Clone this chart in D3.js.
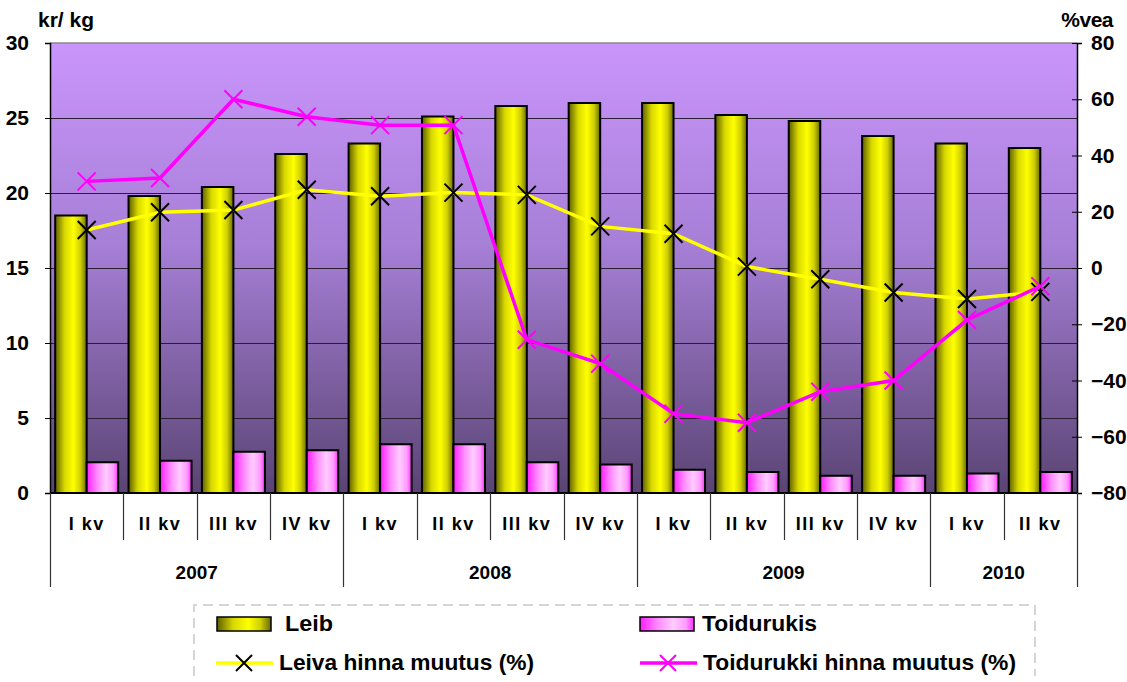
<!DOCTYPE html>
<html>
<head>
<meta charset="utf-8">
<script src="https://cdn.jsdelivr.net/npm/d3@7"></script>
<style>
  body { margin: 0; background: #fff; }
  svg text { font-family: "Liberation Sans", Arial, sans-serif; font-weight: bold; fill: #000; }
</style>
</head>
<body>
<svg id="chart" width="1127" height="682"></svg>
<script>
const quarters = ["I kv","II kv","III kv","IV kv","I kv","II kv","III kv","IV kv","I kv","II kv","III kv","IV kv","I kv","II kv"];
const years = ["2007","2008","2009","2010"];
const yearSpans = [4, 4, 4, 2];
const leib = [18.5, 19.8, 20.4, 22.6, 23.3, 25.1, 25.8, 26.0, 26.0, 25.2, 24.8, 23.8, 23.3, 23.0];
const toidurukis = [2.05, 2.15, 2.75, 2.85, 3.25, 3.25, 2.05, 1.9, 1.55, 1.4, 1.15, 1.15, 1.3, 1.4];
const leivaMuutus = [13.5, 19.8, 20.6, 27.8, 25.5, 26.8, 26.0, 14.8, 12.2, 0.5, -4.0, -8.7, -11.0, -8.5];
const toidMuutus = [30.8, 32.0, 60.0, 53.8, 50.8, 50.8, -25.5, -34.0, -51.8, -55.0, -44.0, -40.0, -18.5, -6.5];
const leftTicks = [0, 5, 10, 15, 20, 25, 30];
const rightTicks = [-80, -60, -40, -20, 0, 20, 40, 60, 80];
const seriesNames = ["Leib", "Toidurukis", "Leiva hinna muutus (%)", "Toidurukki hinna muutus (%)"];

const svg = d3.select("#chart");
const L = 50, R = 1077, T = 43, B = 493;

const x = d3.scaleBand().domain(d3.range(quarters.length)).range([L, R]).paddingInner(0).paddingOuter(0);
const xi = d3.scaleBand().domain([0, 1]).range([0, x.bandwidth()]).paddingInner(0).paddingOuter(0.164);
const yL = d3.scaleLinear().domain([0, 30]).range([B, T]);
const yR = d3.scaleLinear().domain([-80, 80]).range([B, T]);

const defs = svg.append("defs");
const bg = defs.append("linearGradient").attr("id", "bg").attr("x1", 0).attr("y1", 0).attr("x2", 0).attr("y2", 1);
bg.append("stop").attr("offset", "0%").attr("stop-color", "#ca95fc");
bg.append("stop").attr("offset", "45%").attr("stop-color", "#a67fd6");
bg.append("stop").attr("offset", "100%").attr("stop-color", "#5a4473");

const gy = defs.append("linearGradient").attr("id", "gy").attr("x1", 0).attr("y1", 0).attr("x2", 1).attr("y2", 0);
gy.append("stop").attr("offset", "0%").attr("stop-color", "#5e5e00");
gy.append("stop").attr("offset", "30%").attr("stop-color", "#d8d800");
gy.append("stop").attr("offset", "58%").attr("stop-color", "#ffff00");
gy.append("stop").attr("offset", "80%").attr("stop-color", "#d0d000");
gy.append("stop").attr("offset", "100%").attr("stop-color", "#6a6a00");

const gp = defs.append("linearGradient").attr("id", "gp").attr("x1", 0).attr("y1", 0).attr("x2", 1).attr("y2", 0);
gp.append("stop").attr("offset", "0%").attr("stop-color", "#ff1cff");
gp.append("stop").attr("offset", "35%").attr("stop-color", "#ff90ff");
gp.append("stop").attr("offset", "62%").attr("stop-color", "#ffccff");
gp.append("stop").attr("offset", "85%").attr("stop-color", "#ff9cff");
gp.append("stop").attr("offset", "100%").attr("stop-color", "#ff30ff");

// plot background
svg.append("rect").attr("x", L).attr("y", T).attr("width", R - L).attr("height", B - T).attr("fill", "url(#bg)");
svg.append("line").attr("x1", L).attr("x2", R).attr("y1", T).attr("y2", T).attr("stroke", "#8a8a8a").attr("stroke-width", 1.5);

// gridlines
svg.append("g").selectAll("line").data(leftTicks.slice(1, -1)).join("line")
  .attr("x1", L).attr("x2", R).attr("y1", d => Math.round(yL(d)) + 0.5).attr("y2", d => Math.round(yL(d)) + 0.5)
  .attr("stroke", "#2a1f33").attr("stroke-width", 1);

// left axis
const axL = svg.append("g").attr("transform", `translate(${L},0)`)
  .call(d3.axisLeft(yL).tickValues(leftTicks).tickSize(5).tickPadding(16));
axL.select(".domain").attr("stroke", "#000").attr("stroke-width", 1.5);
axL.selectAll(".tick line").attr("stroke", "#000");
axL.selectAll("text").style("font-size", "21px").style("font-family", "Liberation Sans, Arial").style("font-weight", "bold").attr("fill", "#000");

// right axis
const axR = svg.append("g").attr("transform", `translate(${R},0)`)
  .call(d3.axisRight(yR).tickValues(rightTicks).tickSize(5).tickPadding(9));
axR.select(".domain").attr("stroke", "#000").attr("stroke-width", 1.5);
axR.selectAll(".tick line").attr("x1", -5).attr("stroke", "#000");
axR.selectAll("text").style("font-size", "21px").style("font-family", "Liberation Sans, Arial").style("font-weight", "bold").attr("fill", "#000");

// bars
const bars = svg.append("g");
bars.selectAll("rect.leib").data(leib).join("rect").attr("class", "leib")
  .attr("x", (d, i) => x(i) + xi(0)).attr("width", xi.bandwidth())
  .attr("y", d => yL(d)).attr("height", d => B - yL(d))
  .attr("fill", "url(#gy)").attr("stroke", "#000").attr("stroke-width", 2);
bars.selectAll("rect.toid").data(toidurukis).join("rect").attr("class", "toid")
  .attr("x", (d, i) => x(i) + xi(1)).attr("width", xi.bandwidth())
  .attr("y", d => yL(d)).attr("height", d => B - yL(d))
  .attr("fill", "url(#gp)").attr("stroke", "#000").attr("stroke-width", 2);

// baseline
svg.append("line").attr("x1", L).attr("x2", R).attr("y1", B).attr("y2", B).attr("stroke", "#000").attr("stroke-width", 2);

// lines
const cx = i => x(i) + x.bandwidth() / 2;
const line = d3.line().x((d, i) => cx(i)).y(d => yR(d));

function xMark(g, data, color, size) {
  g.selectAll("path.mk").data(data).join("path").attr("class", "mk")
    .attr("d", (d, i) => {
      const px = cx(i), py = yR(d), s = size;
      return `M${px - s},${py - s}L${px + s},${py + s}M${px - s},${py + s}L${px + s},${py - s}`;
    })
    .attr("stroke", color).attr("stroke-width", 2).attr("fill", "none");
}

const gLeiva = svg.append("g");
gLeiva.append("path").datum(leivaMuutus).attr("d", line).attr("fill", "none").attr("stroke", "#ffff00").attr("stroke-width", 3.5);
xMark(gLeiva, leivaMuutus, "#000", 9);

const gToid = svg.append("g");
gToid.append("path").datum(toidMuutus).attr("d", line).attr("fill", "none").attr("stroke", "#ff00ff").attr("stroke-width", 3.5);
xMark(gToid, toidMuutus, "#ff00ff", 9);

// category axis
const catG = svg.append("g");
const sep = d3.range(quarters.length + 1);
const groupStarts = [0];
yearSpans.forEach((s, k) => groupStarts.push(groupStarts[k] + s));
catG.selectAll("line.q").data(sep.filter(i => !groupStarts.includes(i))).join("line").attr("class", "q")
  .attr("x1", i => Math.round(L + i * x.step()) + 0.5).attr("x2", i => Math.round(L + i * x.step()) + 0.5)
  .attr("y1", B).attr("y2", 540).attr("stroke", "#333").attr("stroke-width", 1.2);
catG.selectAll("line.g").data(groupStarts).join("line").attr("class", "g")
  .attr("x1", i => Math.round(L + i * x.step()) + 0.5).attr("x2", i => Math.round(L + i * x.step()) + 0.5)
  .attr("y1", B).attr("y2", 587).attr("stroke", "#333").attr("stroke-width", 1.2);
catG.selectAll("text.q").data(quarters).join("text").attr("class", "q")
  .attr("x", (d, i) => cx(i)).attr("y", 530).attr("text-anchor", "middle")
  .style("font-size", "18px").style("letter-spacing", "1.5px").text(d => d);
catG.selectAll("text.y").data(years).join("text").attr("class", "y")
  .attr("x", (d, k) => L + (groupStarts[k] + yearSpans[k] / 2) * x.step()).attr("y", 579).attr("text-anchor", "middle")
  .style("font-size", "19px").text(d => d);

// axis titles
svg.append("text").attr("x", 38).attr("y", 27).style("font-size", "21px").text("kr/ kg");
svg.append("text").attr("x", 1113).attr("y", 27).attr("text-anchor", "end").style("font-size", "21px").style("letter-spacing", "-0.5px").text("%vea");

// legend
const lg = svg.append("g");
lg.append("path").attr("d", "M194,676 L194,605 L1035,605 L1035,676")
  .attr("fill", "none").attr("stroke", "#c8c8c8").attr("stroke-width", 1.5).attr("stroke-dasharray", "10,6");
const legItems = [
  { name: seriesNames[0], x: 217, y: 624, type: "bar", fill: "url(#gy)", tx: 285, tw: 48, by: 631 },
  { name: seriesNames[1], x: 640, y: 624, type: "bar", fill: "url(#gp)", tx: 702, tw: 115, by: 631 },
  { name: seriesNames[2], x: 216, y: 663, type: "line", stroke: "#ffff00", mk: "#000", tx: 279, tw: 255, by: 670 },
  { name: seriesNames[3], x: 640, y: 663, type: "line", stroke: "#ff00ff", mk: "#ff00ff", tx: 703, tw: 313, by: 670 }
];
legItems.forEach(it => {
  if (it.type === "bar") {
    lg.append("rect").attr("x", it.x).attr("y", it.y - 7).attr("width", 54).attr("height", 14)
      .attr("fill", it.fill).attr("stroke", "#000").attr("stroke-width", 1.5);
  } else {
    lg.append("line").attr("x1", it.x).attr("x2", it.x + 57).attr("y1", it.y).attr("y2", it.y).attr("stroke", it.stroke).attr("stroke-width", 3.5);
    const mx = it.x + 28, s = 8;
    lg.append("path").attr("d", `M${mx - s},${it.y - s}L${mx + s},${it.y + s}M${mx - s},${it.y + s}L${mx + s},${it.y - s}`)
      .attr("stroke", it.mk).attr("stroke-width", 2);
  }
  lg.append("text").attr("x", it.tx).attr("y", it.by).style("font-size", "22px")
    .attr("textLength", it.tw).attr("lengthAdjust", "spacingAndGlyphs").text(it.name);
});
</script>
</body>
</html>
